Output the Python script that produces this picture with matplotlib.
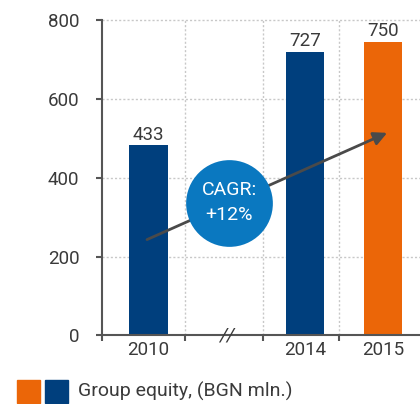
import matplotlib
matplotlib.use("Agg")
import matplotlib.pyplot as plt
from matplotlib.patches import Rectangle

years = ["2010", "2014", "2015"]
positions = [0, 2, 3]          # slot 1 is the axis break
heights = [482, 720, 745]      # bar heights as drawn
labels = ["433", "727", "750"]  # printed values
bar_colors = ["#003f7d", "#003f7d", "#eb6608"]
cagr_text = "CAGR:\n+12%"
legend_text = "Group equity, (BGN mln.)"

plt.rcParams['font.family'] = ['Roboto', 'DejaVu Sans']
txt = "#3a3a3a"
axis_col = "#555555"

fig = plt.figure(figsize=(4.2, 4.04), dpi=100)
ax = fig.add_axes([0.242, 0.170, 0.758, 0.783])

ax.bar(positions, heights, width=0.49, color=bar_colors, zorder=2)
for x, h, lab in zip(positions, heights, labels):
    ax.annotate(lab, (x, h), xytext=(0, 1), textcoords="offset points",
                ha="center", va="bottom", fontsize=13.5, color=txt)

ax.set_xlim(-0.6, 3.47)
ax.set_ylim(0, 803)

# grid
for yv in [200, 400, 600, 800]:
    ax.axhline(yv, color="#c8c8c8", lw=1, ls=(0, (1.5, 1.5)), zorder=1)
for xv in [0.47, 1.46, 2.44]:
    ax.axvline(xv, ymax=800/803, color="#c8c8c8", lw=1, ls=(0, (1.5, 1.5)), zorder=1)

# axes
for s in ["top", "right"]:
    ax.spines[s].set_visible(False)
ax.spines["left"].set_bounds(0, 800)
for s in ["left", "bottom"]:
    ax.spines[s].set_color(axis_col)
    ax.spines[s].set_linewidth(1.5)
ax.set_yticks([0, 200, 400, 600, 800])
ax.tick_params(axis="y", length=4, width=1.5, color=axis_col, pad=12,
               labelsize=13.5, labelcolor=txt)
ax.set_xticks([-0.6, 0.47, 1.46, 2.44])
ax.set_xticklabels([])
ax.tick_params(axis="x", which="major", length=4, width=1.5, color=axis_col)
ax.set_xticks(positions, minor=True)
ax.set_xticklabels(years, minor=True)
ax.tick_params(axis="x", which="minor", length=0, pad=4, labelsize=13.5,
               labelcolor=txt)
ax.text(1, 0, "//", ha="center", va="center", fontsize=14, color=txt,
        style="italic", zorder=5, clip_on=False)

# CAGR arrow and bubble
ax.annotate("", xy=(3.05, 514), xytext=(-0.02, 243),
            arrowprops=dict(arrowstyle="-|>", mutation_scale=20, lw=2,
                            color="#4a4a4a", shrinkA=0, shrinkB=0), zorder=3)
ax.scatter([1.03], [336], s=3900, color="#0a78c0", zorder=4, linewidths=0)
ax.text(1.03, 336, cagr_text, ha="center", va="center", fontsize=14,
        color="white", linespacing=1.5, zorder=5)

# legend
W, H = 420, 404
fig.add_artist(Rectangle((17.3/W, 1-402.7/H), 22.7/W, 22.7/H,
                         transform=fig.transFigure, color="#eb6608"))
fig.add_artist(Rectangle((45/W, 1-402.7/H), 22.7/W, 22.7/H,
                         transform=fig.transFigure, color="#003f7d"))
fig.text(78/W, 1-391/H, legend_text, ha="left", va="center", fontsize=14,
         color=txt)

fig.savefig("out.png", dpi=100)
